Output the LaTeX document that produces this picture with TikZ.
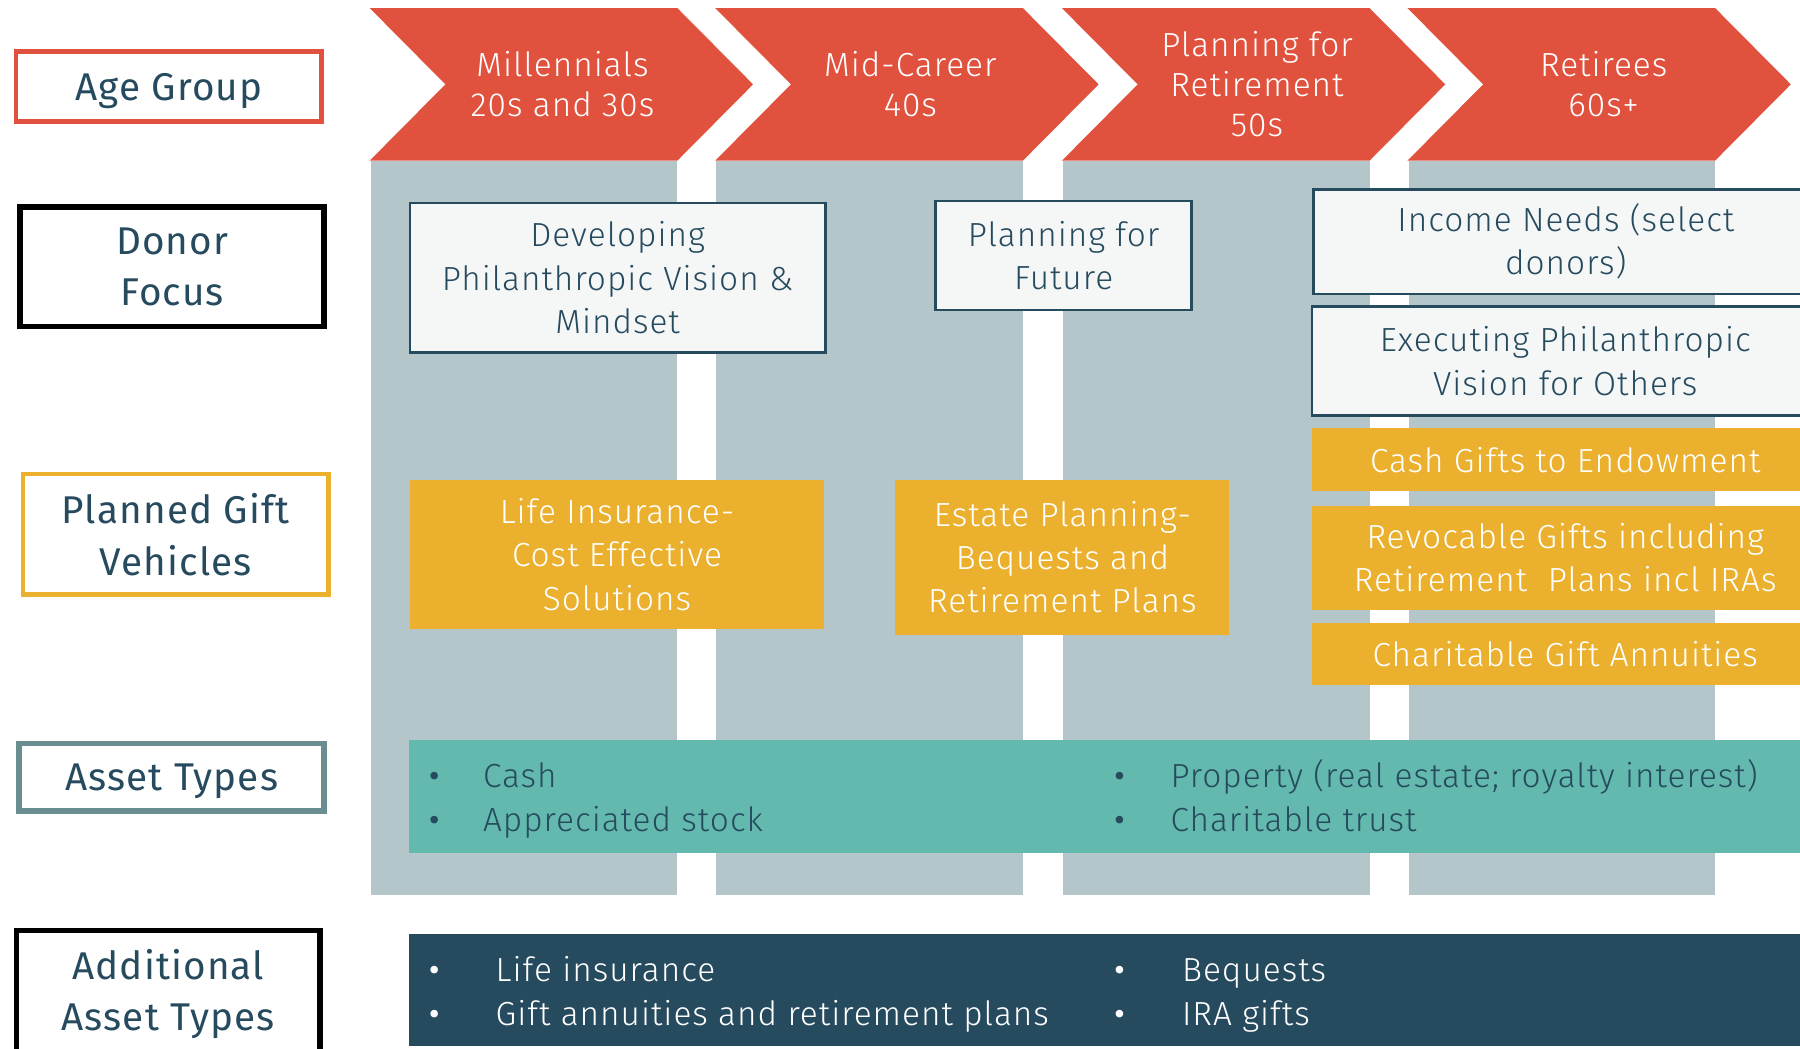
\documentclass[tikz,border=0pt]{standalone}
\usepackage{fontspec}
\IfFontExistsTF{Fira Sans Light}
  {\setmainfont{Fira Sans Light}[LetterSpace=3]}
  {\setmainfont{Fira Sans}[LetterSpace=3]}
\newfontfamily\labelfont{Fira Sans}[LetterSpace=3]
\usepackage{tikz}
\usetikzlibrary{positioning}

\definecolor{chevred}{HTML}{E0523E}
\definecolor{colgray}{HTML}{B4C6C9}
\definecolor{navy}{HTML}{264A5E}
\definecolor{gold}{HTML}{EBB12E}
\definecolor{assetteal}{HTML}{63B9AD}
\definecolor{assetgray}{HTML}{6A8E8F}
\definecolor{boxwhite}{HTML}{F5F7F7}

\newcommand{\bul}[1]{\makebox[#1][l]{\labelfont\textbullet}}

\begin{document}
\begin{tikzpicture}[x=0.01148cm, y=-0.01148cm,
      boxdim/.style 2 args={minimum width=#1*0.01148cm,minimum height=#2*0.01148cm},
      boxfont/.style={font=\fontsize{9.5}{12.3}\selectfont},
      age/.style={text=white,align=center,font=\fontsize{9.5}{11.4}\selectfont},
      rowlabel/.style={fill=white,text=navy,align=center,inner sep=0pt,
        font=\labelfont\fontsize{11}{14.7}\selectfont},
      focus/.style={draw=navy,line width=0.7pt,fill=boxwhite,text=navy,
        align=center,inner sep=0pt,boxfont},
      vehicle/.style={fill=gold,text=white,align=center,inner sep=0pt,boxfont},
      bar/.style={inner sep=0pt,boxdim={1234}{98}},
      item/.style={anchor=base west,inner sep=0pt,boxfont}]
      \useasboundingbox (0,0) rectangle (1568,913);

      % columns and chevrons
      \foreach \x in {322,623,925,1226}{
        \fill[colgray] (\x+1,140) rectangle (\x+268,780);
        \fill[chevred] (\x,7) -- (\x+268,7) -- (\x+334,73.5) -- (\x+268,140)
          -- (\x,140) -- (\x+66,73.5) -- cycle;
      }
      \node[age] (mill) at (490,73.5) {Millennials\\20s and 30s};
      \node[age] (mid)  at (793,73.5) {Mid-Career\\40s};
      \node[age] (plan) at (1095,73.5) {Planning for\\Retirement\\50s};
      \node[age] (ret)  at (1397,73.5) {Retirees\\60s+};

      % row labels
      \node[rowlabel,draw=chevred,line width=1.3pt,boxdim={266}{61},text depth=0pt] (agegroup) at (147,75.5) {Age Group};
      \node[rowlabel,draw=black,line width=1.6pt,boxdim={265}{104}] (donor) at (150,232.5) {Donor\\Focus};
      \node[rowlabel,draw=gold,line width=1.3pt,boxdim={266}{105}] (planned) at (153,465.5) {Planned Gift\\Vehicles};
      \node[rowlabel,draw=assetgray,line width=1.6pt,boxdim={266}{59},text depth=0pt] (assettypes) at (149.5,677) {Asset Types};
      \node[rowlabel,draw=black,line width=1.6pt,boxdim={264}{111}] (additional) at (146.5,866) {Additional\\Asset Types};

      % donor focus
      \node[focus,boxdim={362}{130}] (vision) at (538,242) {Developing\\Philanthropic Vision \&\\Mindset};
      \node[focus,boxdim={223}{95}] (future) at (926.5,222.5) {Planning for\\Future};
      \node[focus,boxdim={440}{91}] (income) at (1364,210.5) {Income Needs (select\\donors)};
      \node[focus,boxdim={441}{95}] (executing) at (1363.5,314.5) {Executing Philanthropic\\Vision for Others};

      % planned gift vehicles
      \node[vehicle,boxdim={361}{130}] (lifeins) at (537.5,483) {Life Insurance-\\Cost Effective\\Solutions};
      \node[vehicle,boxdim={291}{135}] (estate) at (925.5,485.5) {Estate Planning-\\Bequests and\\Retirement Plans};
      \node[vehicle,boxdim={441}{55}] (cashgifts) at (1363.5,400.5) {Cash Gifts to Endowment};
      \node[vehicle,boxdim={441}{91}] (revocable) at (1363.5,486) {Revocable Gifts including\\Retirement~ Plans incl IRAs};
      \node[vehicle,boxdim={441}{54}] (annuities) at (1363.5,570) {Charitable Gift Annuities};

      % asset types
      \node[bar,fill=assetteal] (assets) at (973,694) {};
      \node[item,text=navy] (cash)  at (373,686) {\bul{15.4pt}Cash};
      \node[item,text=navy] (stock) at (373,724) {\bul{15.4pt}Appreciated stock};
      \node[item,text=navy] (prop)  at (970,686) {\bul{16pt}Property (real estate; royalty interest)};
      \node[item,text=navy] (trust) at (970,724) {\bul{16pt}Charitable trust};

      % additional asset types
      \node[bar,fill=navy] (extra) at (973,862.5) {};
      \node[item,text=white] (lifeitem) at (373,855) {\bul{19pt}Life insurance};
      \node[item,text=white] (annitem)  at (373,893) {\bul{19pt}Gift annuities and retirement plans};
      \node[item,text=white] (bequitem) at (970,855) {\bul{19.3pt}Bequests};
      \node[item,text=white] (iraitem)  at (970,893) {\bul{19.3pt}IRA gifts};
    \end{tikzpicture}
\end{document}
